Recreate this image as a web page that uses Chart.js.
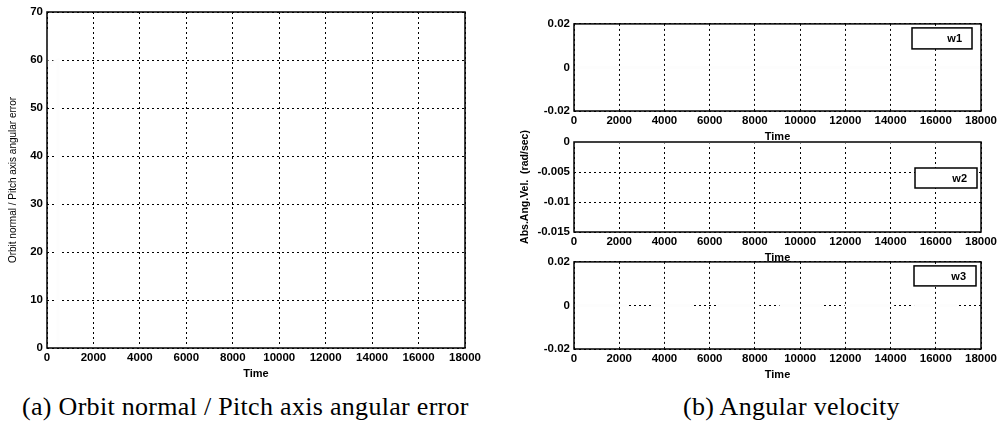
<!DOCTYPE html>
<html>
<head>
<meta charset="utf-8">
<script src="https://cdn.jsdelivr.net/npm/chart.js@4.4.0/dist/chart.umd.min.js"></script>
<style>
  body { margin: 0; background: #fff; width: 1004px; height: 437px; position: relative; overflow: hidden; }
  canvas { position: absolute; }
  .cap { position: absolute; font-family: "Liberation Serif", "DejaVu Serif", serif; font-size: 26px; line-height: 26px; letter-spacing: 0.3px; color: #000; white-space: nowrap; }
</style>
</head>
<body>
<canvas id="cErr" width="485" height="390" style="left:0;top:0"></canvas>
<canvas id="cW1" width="500" height="132" style="left:500px;top:13px"></canvas>
<canvas id="cW2" width="500" height="154" style="left:500px;top:112px"></canvas>
<canvas id="cW3" width="500" height="132" style="left:500px;top:251px"></canvas>
<div class="cap" style="left:22px;top:394px">(a) Orbit normal / Pitch axis angular error</div>
<div class="cap" style="left:683px;top:394px">(b) Angular velocity</div>

<script>
// ---- data (traces are faded, only where they hide the grid shows) ----
const TIME_TICKS = [0, 2000, 4000, 6000, 8000, 10000, 12000, 14000, 16000, 18000];
const ERR_TICKS = [0, 10, 20, 30, 40, 50, 60, 70];
const W13_TICKS = [-0.02, 0, 0.02];
const W2_TICKS = [-0.015, -0.01, -0.005, 0];

// (a) pitch axis angular error
const ERR_T = [0, 0, 470, 470, 18000];
const ERR_V = [66, 59, 60, 0.2, 0.2];

// (b) angular velocity components
const W1_T = [0, 18000];
const W1_V = [0, 0];
const W2_T = [0, 18000];
const W2_V = [0, 0];
const W3_T = [0, 2340, 2890, 3440, 5250, 5800, 6350, 8200, 8650, 9090, 10990, 11480, 11960, 14160, 14600, 15040, 16940];
const W3_V = [0, 0, null, 0, 0, null, 0, 0, null, 0, 0, null, 0, 0, null, 0, 0];

const TRACE = '#fdfdfd';
const TICK_FONT = { family: 'Liberation Sans', size: 11.5, weight: 'bold' };

const pts = (t, v) => t.map((x, i) => ({ x, y: v[i] }));

const framePlugin = {
  id: 'frame',
  afterDatasetsDraw(chart) {
    const { ctx, chartArea: a } = chart;
    ctx.save();
    ctx.strokeStyle = '#000';
    ctx.lineWidth = 1.5;
    ctx.strokeRect(a.left, a.top, a.right - a.left, a.bottom - a.top);
    ctx.restore();
  }
};

// small matlab-style legend box inside the axes
const boxLegend = {
  id: 'boxLegend',
  afterDatasetsDraw(chart, args, opts) {
    if (!opts || !opts.show) return;
    const { ctx, chartArea: a } = chart;
    const x = a.right - opts.right - opts.width;
    const y = a.top + opts.top;
    ctx.save();
    ctx.fillStyle = '#fff';
    ctx.fillRect(x, y, opts.width, opts.height);
    ctx.strokeStyle = '#000';
    ctx.lineWidth = 1.5;
    ctx.strokeRect(x, y, opts.width, opts.height);
    ctx.fillStyle = '#000';
    ctx.font = 'bold 11px "Liberation Sans"';
    ctx.textAlign = 'right';
    ctx.textBaseline = 'middle';
    ctx.fillText(chart.data.datasets[0].label, x + opts.width - 10, y + opts.height / 2 + 1);
    ctx.restore();
  }
};

function xAxis(height, titlePad) {
  return {
    type: 'linear', min: 0, max: 18000,
    afterBuildTicks: s => { s.ticks = TIME_TICKS.map(v => ({ value: v })); },
    afterFit: s => { s.height = height; },
    grid: { color: '#000', lineWidth: 1, drawTicks: false },
    border: { display: false, dash: [2, 3] },
    ticks: { color: '#000', font: TICK_FONT, padding: 3, maxRotation: 0, autoSkip: false, callback: v => String(v) },
    title: { display: true, text: 'Time', color: '#000', font: { family: 'Liberation Sans', size: 11, weight: 'bold' }, padding: { top: 0, bottom: titlePad } }
  };
}

function yAxis(min, max, tickList, width, title) {
  return {
    min, max,
    afterBuildTicks: s => { s.ticks = tickList.map(v => ({ value: v })); },
    afterFit: s => { s.width = width; },
    grid: { color: '#000', lineWidth: 1, drawTicks: false },
    border: { display: false, dash: [2, 3] },
    ticks: { color: '#000', font: TICK_FONT, padding: 4, autoSkip: false, callback: v => String(v) },
    title: title || { display: false }
  };
}

function makeChart(id, label, data, x, y, padding, legend) {
  return new Chart(document.getElementById(id), {
    type: 'line',
    data: {
      datasets: [{
        label,
        data,
        borderColor: TRACE,
        borderWidth: 3,
        pointRadius: 0,
        spanGaps: false,
        fill: false,
        tension: 0
      }]
    },
    plugins: [framePlugin, boxLegend],
    options: {
      responsive: false,
      animation: false,
      layout: { padding },
      scales: { x, y },
      plugins: {
        legend: { display: false },
        tooltip: { enabled: false },
        boxLegend: legend || { show: false }
      }
    }
  });
}

makeChart('cErr', 'error', pts(ERR_T, ERR_V),
  xAxis(42, 9),
  yAxis(0, 70, ERR_TICKS, 47, {
    display: true, text: 'Orbit normal / Pitch axis angular error', color: '#000',
    font: { family: 'Liberation Sans', size: 10 }, padding: { top: 7, bottom: 0 }
  }),
  { top: 12, right: 20, left: 0, bottom: 0 });

makeChart('cW1', 'w1', pts(W1_T, W1_V),
  xAxis(34, 1),
  yAxis(-0.02, 0.02, W13_TICKS, 74),
  { top: 10, right: 18, left: 0, bottom: 0 },
  { show: true, right: 9, top: 4, width: 60, height: 21 });

makeChart('cW2', 'w2', pts(W2_T, W2_V),
  xAxis(34, 1),
  yAxis(-0.015, 0, W2_TICKS, 74, {
    display: true, text: 'Abs.Ang.Vel.  (rad/sec)', color: '#000',
    font: { family: 'Liberation Sans', size: 10.5, weight: 'bold' }, padding: { top: 19, bottom: 0 }
  }),
  { top: 30, right: 18, left: 0, bottom: 0 },
  { show: true, right: 4, top: 26, width: 62, height: 20 });

makeChart('cW3', 'w3', pts(W3_T, W3_V),
  xAxis(34, 1),
  yAxis(-0.02, 0.02, W13_TICKS, 74),
  { top: 10, right: 18, left: 0, bottom: 0 },
  { show: true, right: 5, top: 4, width: 62, height: 20 });
</script>
</body>
</html>
